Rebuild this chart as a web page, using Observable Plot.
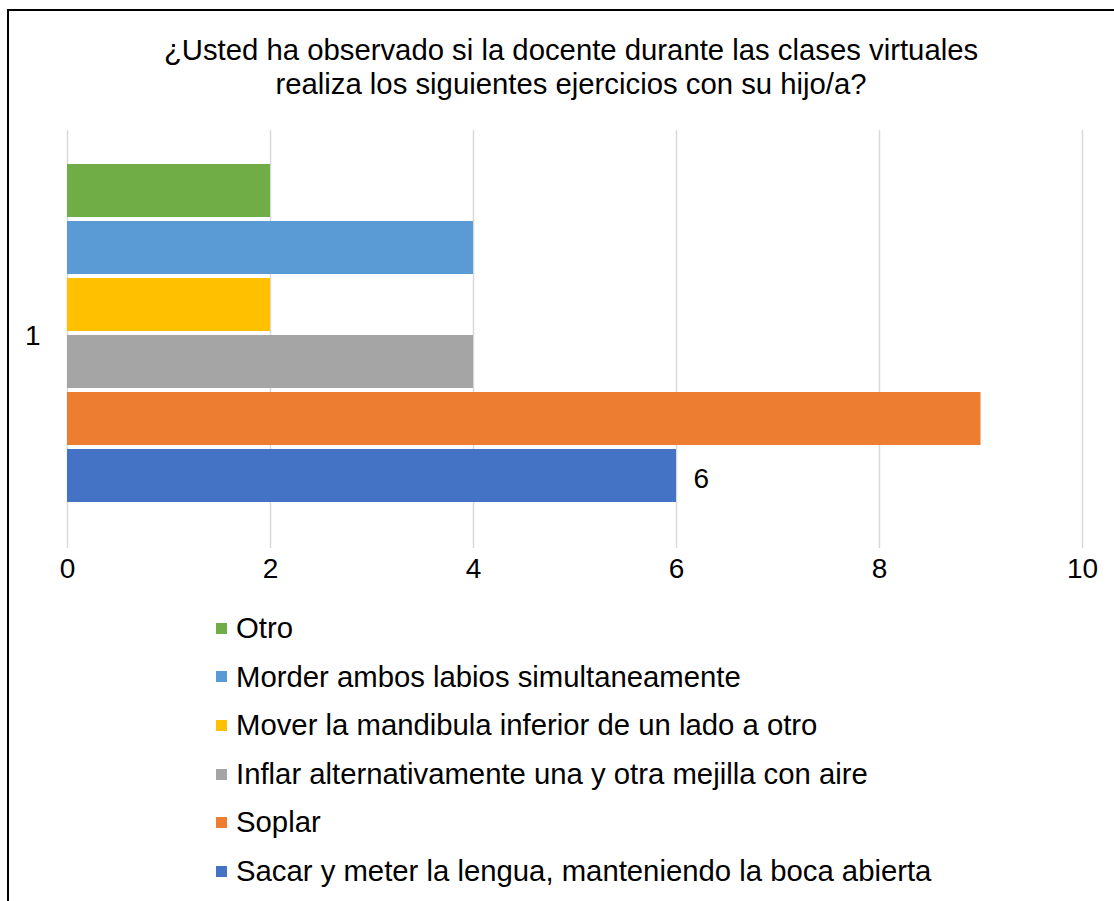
<!DOCTYPE html>
<html>
<head>
<meta charset="utf-8">
<script src="https://cdn.jsdelivr.net/npm/d3@7"></script>
<script src="https://cdn.jsdelivr.net/npm/@observablehq/plot@0.6"></script>
<style>
  html, body { margin: 0; padding: 0; background: #fff; }
  body { width: 1114px; height: 901px; position: relative; overflow: hidden;
         font-family: "Liberation Sans", Arial, sans-serif; color: #000; }
  #frame { position: absolute; left: 7px; top: 9px; width: 1130px; height: 920px;
           border: 2px solid #000; box-sizing: border-box; }
  #title { position: absolute; left: 0; top: 33px; width: 1142px; text-align: center;
           font-size: 29.3px; line-height: 34px; }
  #chart { position: absolute; left: 0; top: 110px; }
  #legend { position: absolute; left: 216px; top: 604px; font-size: 29.3px; }
  .item { height: 48.6px; line-height: 48.6px; white-space: nowrap; display: flex; align-items: center; }
  .sw { width: 11px; height: 11px; margin-right: 9px; flex: none; }
</style>
</head>
<body>
<div id="frame"></div>
<div id="title">¿Usted ha observado si la docente durante las clases virtuales<br>realiza los siguientes ejercicios con su hijo/a?</div>
<div id="chart"></div>
<div id="legend"></div>
<script>
const category = ["1"];
const series = [
  "Otro",
  "Morder ambos labios simultaneamente",
  "Mover la mandibula inferior de un lado a otro",
  "Inflar alternativamente una y otra mejilla con aire",
  "Soplar",
  "Sacar y meter la lengua, manteniendo la boca abierta"
];
const values = [2, 4, 2, 4, 9, 6];
const colors = ["#70AD47", "#5B9BD5", "#FFC000", "#A5A5A5", "#ED7D31", "#4472C4"];
const labeled = [false, false, false, false, false, true];
const xTicks = [0, 2, 4, 6, 8, 10];

const rows = series.map((s, i) => ({cat: category[0], name: s, value: values[i], label: labeled[i]}));

const chart = Plot.plot({
  width: 1114,
  height: 490,
  marginTop: 20,
  marginBottom: 52,
  marginLeft: 67,
  marginRight: 32,
  style: {fontFamily: "'Liberation Sans', Arial, sans-serif", fontSize: "28px", color: "#000", background: "transparent"},
  x: {domain: [0, 10], ticks: xTicks, label: null},
  y: {domain: series, paddingInner: 0.065, paddingOuter: 0, insetTop: 32, insetBottom: 43, axis: null},
  fy: {domain: category, padding: 0, label: null},
  color: {domain: series, range: colors},
  marks: [
    Plot.gridX(xTicks, {x: d => d, stroke: "#d9d9d9", strokeOpacity: 1, strokeWidth: 1.5}),
    Plot.barX(rows, {x: "value", y: "name", fy: "cat", fill: "name"}),
    Plot.text(rows.filter(d => d.label), {x: "value", y: "name", fy: "cat", text: d => String(d.value), dx: 17, dy: 3, textAnchor: "start", fontSize: 28, fill: "#000"}),
    Plot.axisX(xTicks, {tickSize: 0, tickPadding: 10, label: null, fontSize: 28}),
    Plot.axisFy({anchor: "left", tickSize: 0, tickPadding: 27, dy: -3, label: null, fontSize: 28})
  ]
});
document.getElementById("chart").appendChild(chart);

const legend = document.getElementById("legend");
series.forEach((s, i) => {
  const it = document.createElement("div");
  it.className = "item";
  const sw = document.createElement("span");
  sw.className = "sw";
  sw.style.background = colors[i];
  const tx = document.createElement("span");
  tx.textContent = s;
  it.appendChild(sw); it.appendChild(tx);
  legend.appendChild(it);
});
</script>
</body>
</html>
